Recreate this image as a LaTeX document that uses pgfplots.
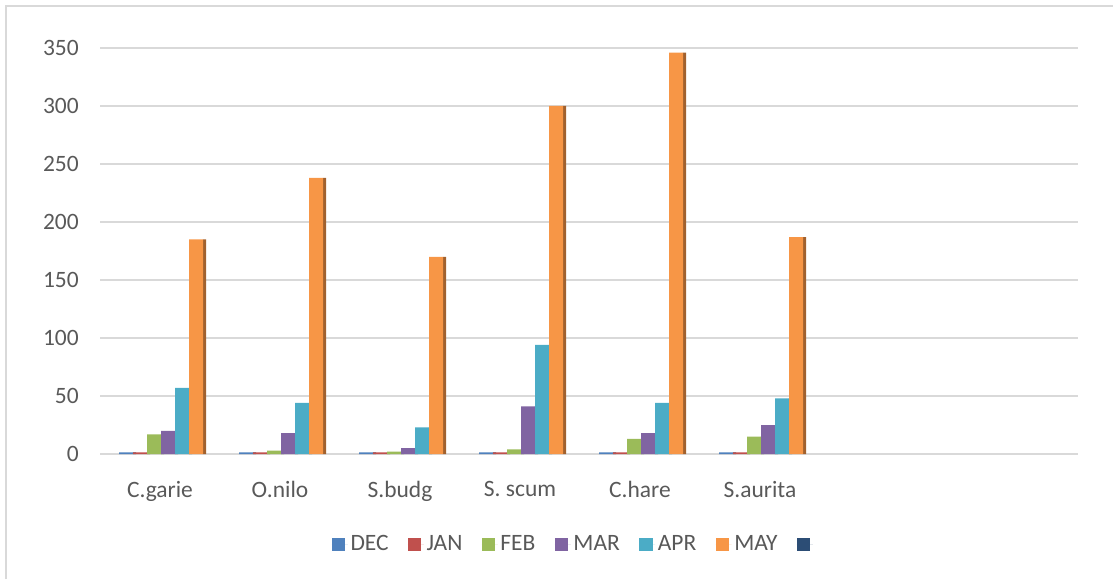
\documentclass[border=0pt]{standalone}
\usepackage{pgfplots}
\pgfplotsset{compat=1.18}
\usepackage{pgfplotstable}
\usepackage{fontspec}
\setmainfont{Carlito}
\definecolor{cDEC}{HTML}{4F81BD}
\definecolor{cJAN}{HTML}{C0504D}
\definecolor{cFEB}{HTML}{9BBB59}
\definecolor{cMAR}{HTML}{8064A2}
\definecolor{cAPR}{HTML}{4BACC6}
\definecolor{cMAY}{HTML}{F79646}
\definecolor{cNAV}{HTML}{2C4D75}
\definecolor{txt}{HTML}{595959}
\definecolor{grd}{HTML}{D9D9D9}
\pgfplotstableread{
x dec jan feb mar apr may
0 1.5 1.5 17 20 57 185
1 1.5 1.5 3 18 44 238
2 1.5 1.5 2 5 23 170
3 1.5 1.5 4 41 94 300
4 1.5 1.5 13 18 44 346
5 1.5 1.5 15 25 48 187
}\data
\pgfplotsset{
  sqlegend/.style={legend image code/.code={\fill[##1] (0pt,-5pt) rectangle (10pt,5pt);\path (0pt,0pt) -- (12pt,0pt);}},
  mainbar/.style 2 args={ybar, bar width=10.5pt, bar shift=#1, fill=#2, draw=none, sqlegend},
  sidebar/.style 2 args={ybar, bar width=2.4pt, bar shift=#1, fill=#2, draw=none, forget plot},
}
\begin{document}
\fontsize{17.6}{21}\selectfont
\begin{tikzpicture}
\begin{axis}[
  at={(75pt,93.75pt)}, anchor=south west,
  scale only axis, width=733.5pt, height=304.5pt,
  xmin=-0.5, xmax=7.65, ymin=0, ymax=350,
  ybar,
  xtick={0,1,2,3,4,5},
  xticklabels={C.garie,O.nilo,S.budg,S. scum,C.hare,S.aurita},
  ytick={0,50,...,350},
  ymajorgrids, major grid style={draw=grd, line width=0.9pt},
  axis line style={draw=none}, tick style={draw=none},
  /pgf/number format/assume math mode=true,
  ticklabel style={font=\fontsize{17.6}{21}\selectfont, text=txt},
  yticklabel style={anchor=east, inner sep=0pt, xshift=-15.75pt},
  xticklabel style={anchor=north, inner sep=0pt, yshift=-15.75pt},
  legend style={at={(0.492,-0.2236)}, anchor=center, draw=none,
    legend columns=-1, font=\fontsize{17.6}{21}\selectfont, text=txt,
    /tikz/every even column/.style={column sep=12.5pt}},
]
\addplot[sidebar={-19.125pt}{cDEC!65!black}] table[x=x,y=dec]{\data};
\addplot[sidebar={-8.625pt}{cJAN!65!black}] table[x=x,y=jan]{\data};
\addplot[sidebar={1.875pt}{cFEB!65!black}] table[x=x,y=feb]{\data};
\addplot[sidebar={12.375pt}{cMAR!65!black}] table[x=x,y=mar]{\data};
\addplot[sidebar={22.875pt}{cAPR!65!black}] table[x=x,y=apr]{\data};
\addplot[sidebar={33.375pt}{cMAY!65!black}] table[x=x,y=may]{\data};
\addplot[mainbar={-25.5pt}{cDEC}] table[x=x,y=dec]{\data};
\addlegendentry{DEC}
\addplot[mainbar={-15pt}{cJAN}] table[x=x,y=jan]{\data};
\addlegendentry{JAN}
\addplot[mainbar={-4.5pt}{cFEB}] table[x=x,y=feb]{\data};
\addlegendentry{FEB}
\addplot[mainbar={6pt}{cMAR}] table[x=x,y=mar]{\data};
\addlegendentry{MAR}
\addplot[mainbar={16.5pt}{cAPR}] table[x=x,y=apr]{\data};
\addlegendentry{APR}
\addplot[mainbar={27pt}{cMAY}] table[x=x,y=may]{\data};
\addlegendentry{MAY}
\addlegendimage{sqlegend, fill=cNAV, draw=none}
\addlegendentry{\phantom{X}}
\end{axis}
\draw[grd, line width=1pt] (4.5pt,0pt) -- (4.5pt,429.75pt) -- (834.75pt,429.75pt);
\pgfresetboundingbox
\path (0pt,0pt) rectangle (834.75pt,434.25pt);
\end{tikzpicture}
\end{document}
